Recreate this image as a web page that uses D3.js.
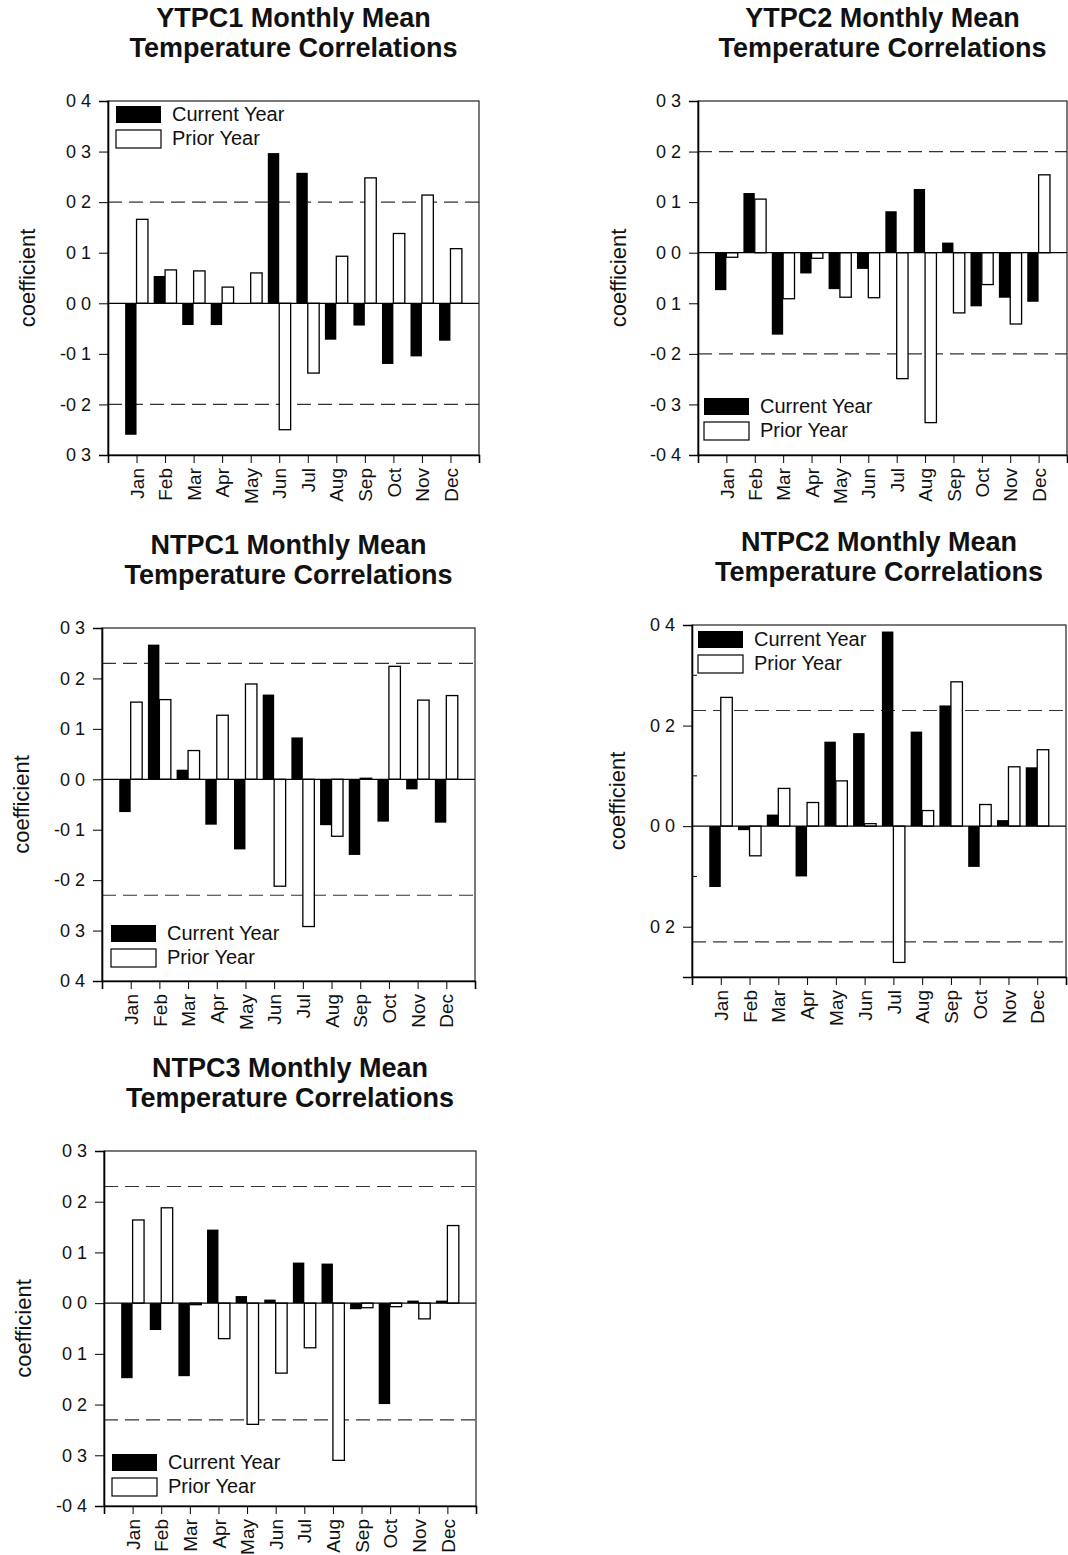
<!DOCTYPE html>
<html>
<head>
<meta charset="utf-8">
<script src="https://cdn.jsdelivr.net/npm/d3@7"></script>
<style>
  body { margin: 0; background: #fff; }
  text { font-family: "Liberation Sans", Arial, sans-serif; fill: #111; }
</style>
</head>
<body>
<div id="my_dataviz"></div>
<script>
// month categories shared by every panel
var months = ["Jan","Feb","Mar","Apr","May","Jun","Jul","Aug","Sep","Oct","Nov","Dec"];

// YTPC1
var ytpc1Current = [-0.26, 0.054, -0.043, -0.043, 0.0, 0.297, 0.258, -0.072, -0.044, -0.12, -0.105, -0.074];
var ytpc1Prior   = [0.166, 0.066, 0.064, 0.032, 0.06, -0.25, -0.138, 0.093, 0.248, 0.138, 0.214, 0.108];
var ytpc1Ticks   = [0.4, 0.3, 0.2, 0.1, 0.0, -0.1, -0.2, -0.3];
var ytpc1Labels  = ["0 4","0 3","0 2","0 1","0 0","-0 1","-0 2","0 3"];

// YTPC2
var ytpc2Current = [-0.074, 0.118, -0.162, -0.041, -0.072, -0.032, 0.082, 0.126, 0.02, -0.106, -0.089, -0.097];
var ytpc2Prior   = [-0.009, 0.106, -0.091, -0.011, -0.088, -0.089, -0.249, -0.336, -0.119, -0.063, -0.141, 0.154];
var ytpc2Ticks   = [0.3, 0.2, 0.1, 0.0, -0.1, -0.2, -0.3, -0.4];
var ytpc2Labels  = ["0 3","0 2","0 1","0 0","0 1","-0 2","-0 3","-0 4"];

// NTPC1
var ntpc1Current = [-0.065, 0.267, 0.019, -0.09, -0.139, 0.168, 0.083, -0.091, -0.15, -0.084, -0.02, -0.086];
var ntpc1Prior   = [0.153, 0.158, 0.057, 0.127, 0.189, -0.212, -0.292, -0.113, 0.002, 0.224, 0.157, 0.166];
var ntpc1Ticks   = [0.3, 0.2, 0.1, 0.0, -0.1, -0.2, -0.3, -0.4];
var ntpc1Labels  = ["0 3","0 2","0 1","0 0","-0 1","-0 2","0 3","0 4"];

// NTPC2
var ntpc2Current = [-0.121, -0.008, 0.023, -0.1, 0.168, 0.185, 0.387, 0.188, 0.24, -0.081, 0.012, 0.117];
var ntpc2Prior   = [0.256, -0.059, 0.075, 0.047, 0.09, 0.005, -0.271, 0.031, 0.287, 0.043, 0.118, 0.152];
var ntpc2Ticks   = [0.4, 0.2, 0.0, -0.2];
var ntpc2Labels  = ["0 4","0 2","0 0","0 2"];
var ntpc2Minor   = [0.3, 0.1, -0.1];

// NTPC3
var ntpc3Current = [-0.148, -0.053, -0.144, 0.145, 0.014, 0.007, 0.08, 0.078, -0.012, -0.199, 0.005, 0.005];
var ntpc3Prior   = [0.164, 0.188, -0.003, -0.07, -0.239, -0.138, -0.088, -0.31, -0.009, -0.007, -0.031, 0.153];
var ntpc3Ticks   = [0.3, 0.2, 0.1, 0.0, -0.1, -0.2, -0.3, -0.4];
var ntpc3Labels  = ["0 3","0 2","0 1","0 0","0 1","0 2","0 3","-0 4"];

var panels = [
  {name:"YTPC1", cur:ytpc1Current, pri:ytpc1Prior, ticks:ytpc1Ticks, labels:ytpc1Labels, minor:[],
   domain:[-0.3,0.4], sig:0.2, x:108, y:101, w:371, h:354, leg:{x:116, y:106}, lab:-73},
  {name:"YTPC2", cur:ytpc2Current, pri:ytpc2Prior, ticks:ytpc2Ticks, labels:ytpc2Labels, minor:[],
   domain:[-0.4,0.3], sig:0.2, x:698, y:101, w:369, h:354, leg:{x:704, y:398}, lab:-72},
  {name:"NTPC1", cur:ntpc1Current, pri:ntpc1Prior, ticks:ntpc1Ticks, labels:ntpc1Labels, minor:[],
   domain:[-0.4,0.3], sig:0.23, x:102, y:628, w:373, h:353, leg:{x:111, y:925}, lab:-73},
  {name:"NTPC2", cur:ntpc2Current, pri:ntpc2Prior, ticks:ntpc2Ticks, labels:ntpc2Labels, minor:ntpc2Minor,
   domain:[-0.3,0.4], sig:0.23, x:692, y:625, w:374, h:352, leg:{x:698, y:631}, lab:-67},
  {name:"NTPC3", cur:ntpc3Current, pri:ntpc3Prior, ticks:ntpc3Ticks, labels:ntpc3Labels, minor:[],
   domain:[-0.4,0.3], sig:0.23, x:104, y:1151, w:372, h:355, leg:{x:112, y:1454}, lab:-73}
];

var svg;

document.addEventListener('DOMContentLoaded', function () {
  svg = d3.select("#my_dataviz")
    .append("svg")
    .attr("width", 1068)
    .attr("height", 1555);
  panels.forEach(drawPanel);
});

function drawPanel(p) {
  var g = svg.append("g").attr("transform", "translate(" + p.x + "," + p.y + ")");

  // months sit at 1..12 on a 0..13 range
  var x = d3.scaleLinear().domain([0, 13]).range([0, p.w]);
  var y = d3.scaleLinear().domain(p.domain).range([p.h, 0]);
  var bw = (x(1) - x(0)) * 0.4;

  // title, two lines
  g.append("text").attr("x", p.w / 2).attr("y", -74).attr("text-anchor", "middle")
    .style("font-size", "27px").style("font-weight", "bold")
    .text(p.name + " Monthly Mean");
  g.append("text").attr("x", p.w / 2).attr("y", -44).attr("text-anchor", "middle")
    .style("font-size", "27px").style("font-weight", "bold")
    .text("Temperature Correlations");

  // y label
  g.append("text")
    .attr("transform", "translate(" + p.lab + "," + (p.h / 2) + ") rotate(-90)")
    .attr("text-anchor", "middle")
    .style("font-size", "22px")
    .text("coefficient");

  // dashed significance lines
  [p.sig, -p.sig].forEach(function (s) {
    g.append("line")
      .attr("x1", 0).attr("x2", p.w)
      .attr("y1", y(s)).attr("y2", y(s))
      .attr("stroke", "#333").attr("stroke-width", 1.2)
      .attr("stroke-dasharray", "14,7");
  });

  // current year bars (black, left of tick)
  g.selectAll("rect.cur")
    .data(p.cur)
    .enter()
    .append("rect")
    .attr("class", "cur")
    .attr("x", function (d, i) { return x(i + 1) - bw; })
    .attr("y", function (d) { return y(Math.max(0, d)); })
    .attr("width", bw)
    .attr("height", function (d) { return Math.abs(y(d) - y(0)); })
    .attr("fill", "#000");

  // prior year bars (open, right of tick)
  g.selectAll("rect.pri")
    .data(p.pri)
    .enter()
    .append("rect")
    .attr("class", "pri")
    .attr("x", function (d, i) { return x(i + 1); })
    .attr("y", function (d) { return y(Math.max(0, d)); })
    .attr("width", bw)
    .attr("height", function (d) { return Math.abs(y(d) - y(0)); })
    .attr("fill", "#fff")
    .attr("stroke", "#000")
    .attr("stroke-width", 1.3);

  // zero line
  g.append("line")
    .attr("x1", 0).attr("x2", p.w)
    .attr("y1", y(0)).attr("y2", y(0))
    .attr("stroke", "#000").attr("stroke-width", 1.2);

  // frame
  g.append("rect")
    .attr("width", p.w).attr("height", p.h)
    .attr("fill", "none").attr("stroke", "#222").attr("stroke-width", 1.2);

  // y axis
  var yAxis = d3.axisLeft(y)
    .tickValues(p.ticks)
    .tickSize(9)
    .tickPadding(8)
    .tickFormat(function (d, i) { return p.labels[i]; });
  var ya = g.append("g").call(yAxis);
  ya.select(".domain").attr("stroke-width", 1.6);
  ya.selectAll("text").style("font-size", "18px").style("font-family", "Liberation Sans, Arial, sans-serif");

  // minor inner ticks
  g.selectAll("line.minor")
    .data(p.minor)
    .enter()
    .append("line")
    .attr("class", "minor")
    .attr("x1", 0).attr("x2", 5)
    .attr("y1", function (d) { return y(d); })
    .attr("y2", function (d) { return y(d); })
    .attr("stroke", "#000");

  // x axis, month names rotated
  var xAxis = d3.axisBottom(x)
    .tickValues(d3.range(1, 13))
    .tickSize(8)
    .tickFormat(function (d) { return months[d - 1]; });
  var xa = g.append("g").attr("transform", "translate(0," + p.h + ")").call(xAxis);
  xa.select(".domain").attr("stroke-width", 1.6);
  xa.selectAll("text")
    .style("font-size", "19px")
    .style("font-family", "Liberation Sans, Arial, sans-serif")
    .attr("text-anchor", "end")
    .attr("transform", "rotate(-90)")
    .attr("x", -13)
    .attr("y", 0)
    .attr("dy", "0.35em");

  // legend
  var lx = p.leg.x - p.x, ly = p.leg.y - p.y;
  g.append("rect").attr("x", lx).attr("y", ly).attr("width", 45).attr("height", 17).attr("fill", "#000");
  g.append("rect").attr("x", lx).attr("y", ly + 24).attr("width", 45).attr("height", 18)
    .attr("fill", "#fff").attr("stroke", "#000").attr("stroke-width", 1.2);
  g.append("text").attr("x", lx + 56).attr("y", ly + 9).attr("dy", "0.3em")
    .style("font-size", "20px").text("Current Year");
  g.append("text").attr("x", lx + 56).attr("y", ly + 33).attr("dy", "0.3em")
    .style("font-size", "20px").text("Prior Year");
}
</script>
</body>
</html>
